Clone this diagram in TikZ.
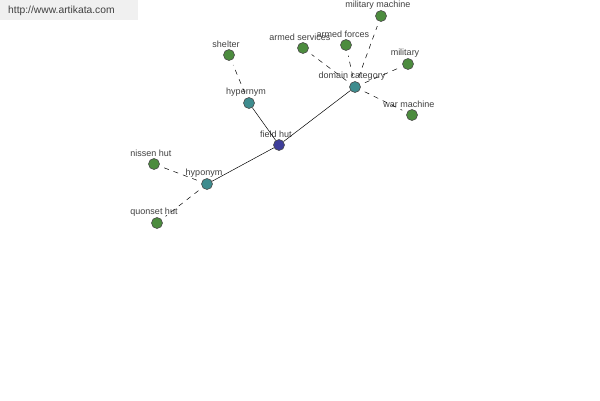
\documentclass[tikz,border=0pt]{standalone}
\usepackage{fontspec}
\setmainfont{Liberation Sans}
\usepackage{tikz}
\usetikzlibrary{positioning}
\usepackage{xcolor}
\definecolor{leafgreen}{HTML}{4C8C3E}
\definecolor{relteal}{HTML}{3E8C8E}
\definecolor{rootblue}{HTML}{3E3E9A}
\definecolor{labelgray}{HTML}{404040}

\begin{document}
\begin{tikzpicture}[x=1pt,y=1pt,on grid,
    dot/.style={circle,draw=black!70,line width=0.6pt,minimum size=11pt,inner sep=0pt},
    leaf/.style={dot,fill=leafgreen},
    rel/.style={dot,fill=relteal},
    root/.style={dot,fill=rootblue},
    every label/.style={text=labelgray,font=\fontsize{9}{10}\selectfont,inner sep=1pt,xshift=-3pt},
    label distance=0pt]
    \useasboundingbox (0,0) rectangle (600,-400);
    % header
    \fill[gray!12] (0,0) rectangle (138,-20);
    \node[anchor=west,text=black!75,font=\fontsize{10.3}{12}\selectfont,inner sep=0pt] (site) at (8,-11) {http://www.artikata.com};
    % the word and its relations
        \node[root,label=above:field hut] (fieldhut) at (279,-145) {};
        \node[rel,
            above left=42pt and 30pt of fieldhut,
            label=above:hypernym
            ] (hypernym) {};
        \node[leaf,
            above left=48pt and 20pt of hypernym,
            label=above:shelter
            ] (shelter) {};
        \node[rel,
            above right=58pt and 76pt of fieldhut,
            label=above:domain category
            ] (domain) {};
        \node[leaf,
            above left=39pt and 52pt of domain,
            label=above:armed services
            ] (armedserv) {};
        \node[leaf,
            above left=42pt and 9pt of domain,
            label=above:armed forces
            ] (armedforces) {};
        \node[leaf,
            above right=71pt and 26pt of domain,
            label=above:military machine
            ] (milmachine) {};
        \node[leaf,
            above right=23pt and 53pt of domain,
            label=above:military
            ] (military) {};
        \node[leaf,
            below right=28pt and 57pt of domain,
            label=above:war machine
            ] (warmachine) {};
        \node[rel,
            below left=39pt and 72pt of fieldhut,
            label=above:hyponym
            ] (hyponym) {};
        \node[leaf,
            above left=20pt and 53pt of hyponym,
            label=above:nissen hut
            ] (nissen) {};
        \node[leaf,
            below left=39pt and 50pt of hyponym,
            label=above:quonset hut
            ] (quonset) {};

    \draw[black,line width=0.5pt]
        (fieldhut) edge (hypernym)
        (fieldhut) edge (domain)
        (fieldhut) edge (hyponym);
    \draw[black,line width=0.5pt,dash pattern=on 5pt off 5pt,shorten <=5pt,shorten >=5pt]
        (hypernym) edge (shelter)
        (domain) edge (armedserv)
        (domain) edge (armedforces)
        (domain) edge (milmachine)
        (domain) edge (military)
        (domain) edge (warmachine)
        (hyponym) edge (nissen)
        (hyponym) edge (quonset);
\end{tikzpicture}
\end{document}
